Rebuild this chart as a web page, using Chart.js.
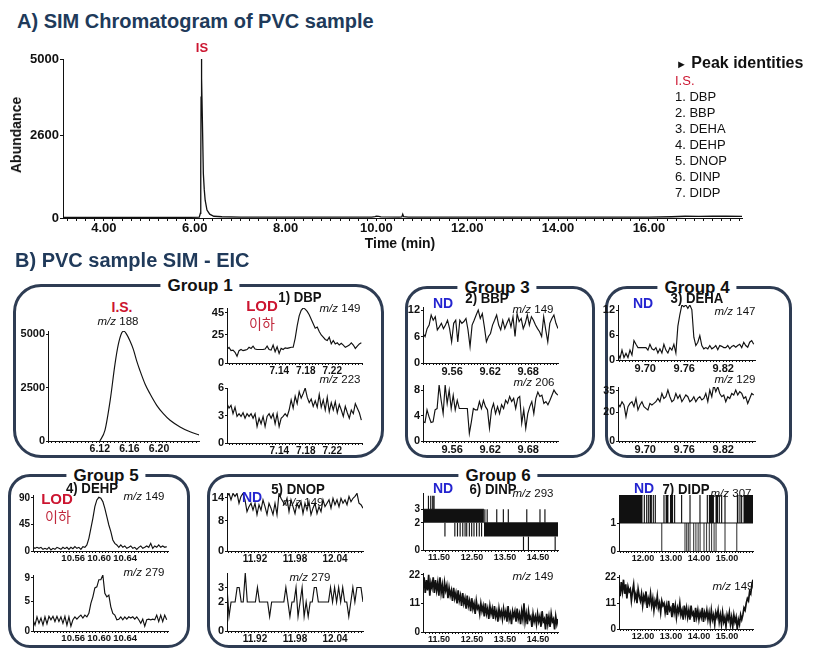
<!DOCTYPE html>
<html>
<head>
<meta charset="utf-8">
<script src="https://cdn.jsdelivr.net/npm/chart.js@4.4.1/dist/chart.umd.min.js"></script>
<style>
  html, body { margin: 0; padding: 0; background: #fff; }
  #stage { position: relative; width: 835px; height: 651px; overflow: hidden; background: #fff;
           font-family: 'Liberation Sans', Arial, sans-serif; color: #111; }
  canvas { position: absolute; z-index: 2; }
  .t   { position: absolute; transform: translate(-50%, -50%); line-height: 1; white-space: nowrap; z-index: 3; }
  .l   { position: absolute; transform: translateY(-50%); line-height: 1; white-space: nowrap; z-index: 3; }
  .box { position: absolute; box-sizing: border-box; border: 3px solid #2e3c53; border-radius: 22px; z-index: 1; }
  .grp { position: absolute; transform: translate(-50%, -50%); background: #fff; padding: 0 7px;
         font-weight: bold; font-size: 17px; line-height: 1; white-space: nowrap; z-index: 2; }
  .sec { font-weight: bold; font-size: 20px; color: #203a5a; }
  .sub { font-weight: bold; font-size: 15px; transform: translate(-50%, -50%) scaleX(0.88); }
  .mz  { font-size: 11.5px; }
  .red { color: #cc1530; font-weight: bold; }
  .kor { color: #c0283c; font-size: 14px; font-family: 'Noto Sans CJK KR', sans-serif; }
  .nd  { color: #2424d0; font-weight: bold; font-size: 14px; }
  .leg { font-size: 13px; }
</style>
</head>
<body>
<div id="stage">
  <!-- A) overview -->
  <div class="l sec" style="left:17px;top:21px">A) SIM Chromatogram of PVC sample</div>
  <div class="t red" style="left:202px;top:47px;font-size:13px">IS</div>
  <div class="t" style="left:16px;top:135px;font-weight:bold;font-size:14px;transform:translate(-50%,-50%) rotate(-90deg)">Abundance</div>
  <div class="t" style="left:400px;top:243px;font-weight:bold;font-size:14px">Time (min)</div>

  <div class="l" style="left:676px;top:63px;font-weight:bold;font-size:16px"><span style="font-size:11px">&#9658;</span> Peak identities</div>
  <div class="l leg" style="left:675px;top:80px;color:#cc1530">I.S.</div>
  <div class="l leg" style="left:675px;top:96px">1. DBP</div>
  <div class="l leg" style="left:675px;top:112px">2. BBP</div>
  <div class="l leg" style="left:675px;top:128px">3. DEHA</div>
  <div class="l leg" style="left:675px;top:144px">4. DEHP</div>
  <div class="l leg" style="left:675px;top:160px">5. DNOP</div>
  <div class="l leg" style="left:675px;top:176px">6. DINP</div>
  <div class="l leg" style="left:675px;top:192px">7. DIDP</div>

  <!-- B) extracted ion panels -->
  <div class="l sec" style="left:15px;top:260px">B) PVC sample SIM - EIC</div>

  <div class="box" style="left:13px;top:284px;width:371px;height:174px;border-radius:28px"></div>
  <div class="box" style="left:405px;top:286px;width:190px;height:172px"></div>
  <div class="box" style="left:605px;top:286px;width:187px;height:172px"></div>
  <div class="box" style="left:8px;top:474px;width:182px;height:174px"></div>
  <div class="box" style="left:207px;top:474px;width:581px;height:174px"></div>

  <div class="grp" style="left:200px;top:285px">Group 1</div>
  <div class="grp" style="left:497px;top:287px">Group 3</div>
  <div class="grp" style="left:697px;top:287px">Group 4</div>
  <div class="grp" style="left:106px;top:475px">Group 5</div>
  <div class="grp" style="left:498px;top:475px">Group 6</div>

  <!-- Group 1 -->
  <div class="t red" style="left:122px;top:307px;font-size:14px">I.S.</div>
  <div class="t mz" style="left:118px;top:322px"><i>m/z</i> 188</div>
  <div class="t sub" style="left:300px;top:296px">1) DBP</div>
  <div class="t red" style="left:262px;top:305px;font-size:15px">LOD</div>
  <div class="t kor" style="left:262px;top:323px">이하</div>
  <div class="t mz" style="left:340px;top:309px"><i>m/z</i> 149</div>
  <div class="t mz" style="left:340px;top:380px"><i>m/z</i> 223</div>

  <!-- Group 3 -->
  <div class="t nd" style="left:443px;top:303px">ND</div>
  <div class="t sub" style="left:487px;top:297px">2) BBP</div>
  <div class="t mz" style="left:533px;top:310px"><i>m/z</i> 149</div>
  <div class="t mz" style="left:534px;top:383px"><i>m/z</i> 206</div>

  <!-- Group 4 -->
  <div class="t nd" style="left:643px;top:303px">ND</div>
  <div class="t sub" style="left:697px;top:297px">3) DEHA</div>
  <div class="t mz" style="left:735px;top:312px"><i>m/z</i> 147</div>
  <div class="t mz" style="left:735px;top:380px"><i>m/z</i> 129</div>

  <!-- Group 5 -->
  <div class="t sub" style="left:92px;top:487px">4) DEHP</div>
  <div class="t red" style="left:57px;top:498px;font-size:15px">LOD</div>
  <div class="t kor" style="left:58px;top:516px">이하</div>
  <div class="t mz" style="left:144px;top:497px"><i>m/z</i> 149</div>
  <div class="t mz" style="left:144px;top:573px"><i>m/z</i> 279</div>

  <!-- Group 6 -->
  <div class="t sub" style="left:298px;top:488px">5) DNOP</div>
  <div class="t nd" style="left:252px;top:497px">ND</div>
  <div class="t mz" style="left:303px;top:503px"><i>m/z</i> 149</div>
  <div class="t mz" style="left:310px;top:578px"><i>m/z</i> 279</div>

  <div class="t nd" style="left:443px;top:488px">ND</div>
  <div class="t sub" style="left:493px;top:488px">6) DINP</div>
  <div class="t mz" style="left:533px;top:494px"><i>m/z</i> 293</div>
  <div class="t mz" style="left:533px;top:577px"><i>m/z</i> 149</div>

  <div class="t nd" style="left:644px;top:488px">ND</div>
  <div class="t sub" style="left:686px;top:488px">7) DIDP</div>
  <div class="t mz" style="left:731px;top:494px"><i>m/z</i> 307</div>
  <div class="t mz" style="left:733px;top:587px"><i>m/z</i> 149</div>
</div>

<script>
// ── Data ──────────────────────────────────────────────────────

// A) full SIM run
const mainTime   = [3.10, 4.00, 5.00, 5.90, 6.10, 6.125, 6.133, 6.14, 6.146, 6.15, 6.157, 6.17, 6.19, 6.21, 6.23,
                    6.27, 6.33, 6.42, 6.60, 7.00, 8.00, 9.00, 9.90, 9.97, 10.00, 10.05, 10.10, 10.50, 10.56, 10.58,
                    10.60, 10.70, 12.00, 14.00, 16.00, 16.50, 16.80, 17.10, 17.40, 17.70, 18.05];
const mainAbund  = [15, 15, 18, 20, 25, 150, 1500, 3800, 4900, 5000, 4400, 3000, 1400, 900, 560,
                    250, 120, 55, 40, 30, 25, 25, 30, 45, 60, 50, 35, 30, 35, 120,
                    40, 30, 25, 25, 28, 40, 55, 50, 60, 55, 50];
const mainXTicks = [4, 6, 8, 10, 12, 14, 16];
const mainYTicks = [0, 2600, 5000];

// Group 1 – internal standard, m/z 188
const isTime  = [6.120, 6.127, 6.134, 6.1405, 6.145, 6.1495, 6.1527, 6.1563, 6.1608, 6.1653,
                 6.1698, 6.1743, 6.1811, 6.1878, 6.1969, 6.2058, 6.2149, 6.2284, 6.2419, 6.2545];
const isAbund = [0, 510, 1900, 3600, 4520, 5060, 5140, 4990, 4680, 4290,
                 3750, 3290, 2670, 2210, 1670, 1280, 970, 660, 430, 280];
const isXTicks = [6.12, 6.16, 6.20];
const isYTicks = [0, 2500, 5000];

// Group 1 – DBP (scan window 7.061 – 7.265 min)
const dbpRange  = [7.061, 7.264];
const dbp149 = [12.1, 13.8, 11, 11.5, 9.5, 6, 11, 12, 11, 11.5, 12, 14, 13, 15, 12.5, 12, 12, 12, 12, 12.5,
                15, 12, 11.5, 16, 10, 14.5, 8.5, 13, 12, 13.5, 13, 13.5, 14, 14, 22, 33, 42, 47, 49, 48,
                46, 43, 39, 35, 31, 32, 28, 25, 23, 21, 20, 23, 17, 20, 17, 18, 16, 17.5, 16, 14,
                15, 16, 18, 16, 13, 15, 17, 18];
const dbp223 = [4.3, 3.8, 4.1, 3.2, 3.9, 2.9, 3.2, 2.9, 3.3, 2.7, 3.2, 2.9, 3.2, 2.7, 3.2, 1.8, 2.7, 2.1, 2.9, 1.8,
                2.9, 3.2, 2.7, 3.2, 2.1, 3.2, 1.8, 2.7, 2.9, 3.2, 2.9, 3.6, 4.7, 3.8, 5.1, 4.3, 5.6, 4.9, 5.4, 6.0,
                5.0, 4.4, 4.8, 4.0, 4.6, 3.9, 5.3, 3.9, 4.7, 3.6, 5.0, 3.4, 4.4, 3.6, 4.5, 3.3, 4.2, 3.6, 2.9, 4.0,
                3.3, 2.7, 3.6, 3.2, 4.3, 3.8, 3.3, 2.5];
const dbpXTicks    = [7.14, 7.18, 7.22];
const dbp149YTicks = [0, 25, 45];
const dbp223YTicks = [0, 3, 6];

// Group 3 – BBP
const bbpRange = [9.514, 9.727];
const bbp149 = [6.7, 6.0, 7.8, 8.6, 10.9, 9.7, 10.5, 7.5, 8.2, 9.0, 7.8, 8.6, 9.7, 7.8, 4.8, 9.0, 9.7, 4.8, 9.7, 9.0,
                9.4, 10.1, 7.5, 3.7, 8.6, 9.7, 10.9, 12.0, 10.1, 11.2, 8.2, 4.8, 6.0, 6.7, 8.6, 9.7, 10.9, 8.6, 7.5, 9.7,
                7.8, 9.0, 10.1, 8.2, 10.5, 6.0, 11.2, 9.4, 10.1, 7.8, 9.0, 10.9, 8.6, 10.5, 9.7, 8.6, 7.8, 7.1, 6.0, 10.5,
                7.5, 4.8, 9.0, 10.1, 10.9, 9.0, 7.8];
const bbp206 = [3.0, 2.9, 4.9, 3.8, 2.9, 3.0, 4.9, 5.1, 8.8, 6.4, 4.3, 8.8, 5.9, 8.0, 5.1, 7.2, 4.9, 6.4, 5.1, 5.1,
                5.1, 5.1, 5.1, 1.2, 3.0, 5.1, 4.9, 4.9, 6.2, 5.1, 6.4, 5.4, 4.9, 2.0, 4.9, 5.9, 4.3, 5.4, 4.3, 5.7,
                5.1, 6.4, 5.9, 7.0, 6.2, 6.7, 5.1, 6.7, 7.0, 2.8, 4.9, 2.0, 4.3, 5.4, 6.2, 4.3, 6.7, 7.7, 7.0, 7.2,
                5.9, 6.2, 5.7, 6.4, 7.2, 8.0, 7.5, 7.2];
const bbpXTicks    = [9.56, 9.62, 9.68];
const bbp149YTicks = [0, 6, 12];
const bbp206YTicks = [0, 4, 8];

// Group 4 – DEHA
const dehaRange = [9.658, 9.867];
const deha147 = [1.6, 0.4, 2.4, 0.6, 1.6, 0.6, 2.4, 1.2, 4.7, 3.8, 3.0, 3.0, 3.0, 3.0, 3.0, 2.4, 3.8, 2.7, 2.4, 3.0,
                 1.7, 2.7, 1.7, 3.8, 2.4, 1.7, 3.0, 2.4, 3.8, 1.7, 8.2, 11.0, 13.3, 12.9, 13.3, 12.5, 13.3, 12.2, 5.5, 3.5,
                 4.3, 5.9, 3.5, 2.7, 3.0, 2.7, 3.5, 2.7, 3.0, 3.5, 2.5, 3.5, 3.3, 3.0, 3.0, 3.5, 2.7, 3.3, 3.5, 3.1,
                 3.5, 3.8, 3.0, 4.3, 3.5, 3.1, 4.3, 4.7, 3.8];
const deha129 = [26.3, 24.0, 27.5, 25.2, 17.0, 24.0, 26.3, 27.5, 24.0, 29.8, 21.7, 25.2, 27.5, 24.0, 22.8, 21.7, 26.3, 25.2, 26.3, 27.5,
                 29.8, 27.5, 33.3, 29.8, 31.0, 35.7, 31.0, 27.5, 28.7, 33.3, 29.8, 32.2, 27.5, 29.8, 32.2, 31.0, 27.5, 28.7, 31.0, 27.5,
                 29.8, 31.0, 28.7, 29.8, 33.3, 27.5, 35.7, 31.0, 39.2, 34.5, 38.0, 33.3, 31.0, 32.2, 27.5, 31.0, 29.8, 33.3, 32.2, 35.7,
                 32.2, 34.5, 33.3, 29.8, 31.0, 26.3, 29.8, 33.3, 32.2];
const dehaXTicks    = [9.70, 9.76, 9.82];
const deha147YTicks = [0, 6, 12];
const deha129YTicks = [0, 20, 35];

// Group 5 – DEHP
const dehpRange = [10.498, 10.704];
const dehp149 = [6.2, 4.5, 6.2, 4.5, 6.2, 2.8, 4.5, 2.8, 6.2, 1.7, 4.5, 2.8, 6.2, 4.5, 2.8, 6.2, 4.0, 6.2, 2.8, 6.2,
                 4.0, 7.4, 4.5, 6.2, 2.8, 7.4, 6.2, 10.2, 21.5, 38.5, 55.5, 75.3, 86.6, 91.1, 89.4, 83.8, 72.4, 58.3, 44.1, 32.8,
                 18.7, 13.0, 10.2, 6.2, 10.2, 6.2, 8.5, 4.5, 6.2, 8.5, 4.5, 6.2, 2.8, 6.2, 8.5, 4.5, 6.2, 8.5, 6.2, 13.0,
                 4.5, 8.5, 6.2, 10.2, 6.2, 8.5, 6.2, 7.4];
const dehp279 = [1.9, 1.0, 2.4, 1.3, 2.2, 1.0, 2.4, 1.2, 2.5, 1.9, 2.5, 1.6, 2.5, 1.6, 2.4, 1.3, 2.5, 1.0, 2.4, 0.8,
                 1.9, 2.4, 2.0, 2.4, 2.7, 2.2, 2.7, 2.4, 3.0, 4.7, 5.8, 7.3, 7.5, 8.7, 8.7, 9.5, 6.4, 5.8, 6.1, 4.1,
                 3.0, 2.7, 1.9, 2.0, 2.4, 1.9, 2.4, 2.0, 2.4, 2.2, 2.4, 2.0, 2.4, 1.9, 1.3, 2.0, 0.8, 1.9, 2.0, 1.9,
                 2.0, 1.9, 2.7, 1.6, 2.7, 1.6, 2.7, 1.9];
const dehpXTicks    = [10.56, 10.60, 10.64];
const dehp149YTicks = [0, 45, 90];
const dehp279YTicks = [0, 5, 9];

// Group 6 – DNOP
const dnopRange = [11.878, 12.082];
const dnop149 = [14.4, 15.2, 13.5, 15.2, 14.4, 15.2, 12.6, 14.4, 15.2, 13.5, 10.4, 11.7, 12.6, 10.8, 12.6, 9.6, 12.2, 10.8, 13.5, 11.7,
                 9.6, 12.6, 11.3, 9.6, 12.6, 9.6, 15.2, 13.9, 13.0, 12.2, 13.9, 10.4, 13.5, 11.7, 9.9, 12.6, 11.3, 13.0, 9.9, 12.6,
                 10.8, 13.0, 9.6, 11.3, 12.6, 9.9, 11.7, 10.4, 13.5, 11.7, 12.6, 13.5, 11.3, 13.9, 12.2, 13.5, 11.7, 13.9, 12.6, 13.5,
                 12.2, 14.4, 13.0, 13.9, 14.4, 15.2, 12.6, 12.2, 11.3];
const dnop279 = [3, 1, 2, 2, 2, 3, 3, 2, 2, 4, 2, 2, 2, 2, 2, 3, 2, 2, 2, 2,
                 2, 1, 2, 2, 2, 2, 2, 2, 2, 3, 2, 1, 2, 2, 3, 1, 2, 3, 1, 2,
                 1, 2, 2, 3, 3, 2, 2, 2, 2, 2, 2, 3, 2, 3, 2, 3, 2, 3, 2, 2,
                 1, 2, 3, 2, 3, 3, 3, 2];
const dnopXTicks    = [11.92, 11.98, 12.04];
const dnop149YTicks = [0, 8, 14];
const dnop279YTicks = [0, 2, 3];

// Group 6 – DINP (m/z 293 is a counting signal: dense bands + single spikes)
const dinpRange     = [11.015, 15.106];
const dinpBandStart = [11.015, 12.86];
const dinpBandEnd   = [12.86, 15.106];
const dinpBandLo    = [2, 1];
const dinpBandHi    = [3, 2];
const dinpSpikeT    = [11.18, 11.25, 11.31, 11.35,
                       11.68, 11.98, 12.06, 12.14, 12.22, 12.29, 12.34, 12.42, 12.49, 12.56, 12.64, 12.72, 12.79,
                       12.89, 12.96, 13.25, 13.45, 13.60, 14.16, 14.56, 14.71,
                       14.06, 14.21, 15.02];
const dinpSpikeLo   = [3, 3, 3, 3, 1, 1, 1, 1, 1, 1, 1, 1, 1, 1, 1, 1, 1, 2, 2, 2, 2, 2, 2, 2, 2, 0, 0, 0];
const dinpSpikeHi   = [4, 4, 4, 4, 2, 2, 2, 2, 2, 2, 2, 2, 2, 2, 2, 2, 2, 3, 3, 3, 3, 3, 3, 3, 3, 1, 1, 1];
const dinp149 = [17, 21, 15, 20, 16, 22, 14, 19, 17, 21, 15, 20, 16, 19, 14, 21, 15, 18, 13, 19,
                 16, 18, 13, 17, 14, 16, 12, 17, 13, 15, 11, 16, 12, 14, 10, 15, 11, 13, 9, 14,
                 10, 12, 8, 13, 9, 11, 7, 12, 9, 10, 7, 11, 8, 10, 6, 11, 7, 9, 5, 10,
                 7, 9, 5, 10, 6, 8, 4, 9, 6, 8, 5, 9, 6, 8, 4, 10, 5, 7, 3, 8,
                 6, 8, 4, 9, 5, 7, 3, 8, 5, 11, 4, 7, 3, 8, 5, 6, 2, 7, 4, 6,
                 3, 7, 4, 6, 2, 8, 4, 5, 1, 7, 3, 6, 2, 7, 4, 5, 1, 6, 3, 5];
const dinpXTicks    = [11.5, 12.5, 13.5, 14.5];
const dinp293YTicks = [0, 2, 3];
const dinp149YTicks = [0, 11, 22];

// Group 6 – DIDP
const didpRange     = [11.143, 15.93];
const didpFloor     = 1;
const didpBandStart = [11.143, 12.11, 12.226, 12.80, 12.964, 14.345, 14.583, 15.345, 15.583];
const didpBandEnd   = [11.99, 12.155, 12.32, 12.917, 13.083, 14.536, 14.68, 15.417, 15.93];
const didpUpT       = [12.048, 12.19, 12.369, 12.44, 12.75, 13.13, 13.38, 13.68, 14.036, 14.298, 14.726, 14.81, 14.93, 15.464, 15.524];
const didpDownT     = [12.67, 13.50, 13.56, 13.62, 13.68, 13.81, 13.89, 13.97, 14.04, 14.18, 14.27, 14.37, 14.45, 14.54, 14.61, 14.93, 15.35];
const didp149 = [18, 14, 20, 16, 21, 15, 19, 13, 18, 16, 17, 12, 16, 19, 13, 15, 11, 17, 14, 12,
                 15, 10, 14, 12, 16, 9, 13, 11, 15, 10, 13, 8, 12, 10, 14, 9, 11, 7, 12, 10,
                 11, 7, 10, 6, 12, 8, 9, 5, 11, 7, 10, 5, 9, 7, 11, 6, 8, 4, 10, 6,
                 9, 5, 8, 4, 10, 6, 7, 3, 9, 5, 8, 4, 7, 5, 9, 3, 7, 5, 8, 4,
                 7, 3, 8, 4, 6, 2, 7, 5, 8, 3, 6, 2, 7, 3, 5, 1, 6, 4, 7, 2,
                 5, 1, 6, 3, 5, 0, 4, 2, 6, 4, 6, 9, 8, 11, 13, 12, 16, 15, 19, 21];
const didpXTicks    = [12, 13, 14, 15];
const didp307YTicks = [0, 1];
const didp149YTicks = [0, 11, 22];

// ── Helpers ───────────────────────────────────────────────────

const INK   = '#111';
const stage = document.getElementById('stage');
Chart.defaults.font.family = "'Liberation Sans', Arial, sans-serif";

const pairs   = (ts, vs) => ts.map((t, i) => ({ x: t, y: vs[i] }));
const sampled = (range, vs) => vs.map((v, i) => ({ x: range[0] + (range[1] - range[0]) * i / (vs.length - 1), y: v }));

function spikes(ts, los, his) {
  return ts.flatMap((t, i) => [{ x: t, y: los[i] }, { x: t, y: his[i] }, { x: t, y: null }]);
}

const trace = (data, extra = {}) => ({ data, borderColor: INK, borderWidth: 1.15, pointRadius: 0, tension: 0, ...extra });

function bands(starts, ends, lo, hi) {
  return starts.map((s, i) => ({
    data: [{ x: s, y: hi[i] }, { x: ends[i], y: hi[i] }],
    borderColor: INK, borderWidth: 1, pointRadius: 0,
    backgroundColor: INK, fill: { value: lo[i] },
  }));
}

function xTickList(min, max, minor, majors) {
  const out = [];
  for (let k = Math.ceil(min / minor - 1e-9); k <= Math.floor(max / minor + 1e-9); k++) {
    out.push({ value: +(k * minor).toFixed(5) });
  }
  majors.forEach(m => { if (!out.some(t => Math.abs(t.value - m) < 1e-6)) out.push({ value: m }); });
  return out.sort((a, b) => a.value - b.value);
}

// area = plot rectangle [left, top, right, bottom] in page pixels
function plot(area, o) {
  const [x0, y0, x1, y1] = area;
  const PAD = 10;
  const w = x1 - x0 + o.yw + PAD;
  const h = y1 - y0 + PAD + o.xh;
  const cv = document.createElement('canvas');
  cv.width = w; cv.height = h;
  cv.style.left = (x0 - o.yw) + 'px';
  cv.style.top = (y0 - PAD) + 'px';
  cv.style.width = w + 'px';
  cv.style.height = h + 'px';
  stage.appendChild(cv);

  const isMajor = v => o.xticks.some(m => Math.abs(m - v) < 1e-6);
  return new Chart(cv, {
    type: 'line',
    data: { datasets: o.datasets },
    options: {
      responsive: false,
      animation: false,
      devicePixelRatio: 1,
      layout: { padding: { top: PAD, right: PAD, left: 0, bottom: 0 } },
      plugins: { legend: { display: false }, tooltip: { enabled: false } },
      scales: {
        x: {
          type: 'linear', min: o.xmin, max: o.xmax, offset: false,
          afterFit: s => { s.height = o.xh; },
          afterBuildTicks: ax => { ax.ticks = xTickList(o.xmin, o.xmax, o.minor, o.xticks); },
          grid: { drawOnChartArea: false, drawTicks: true, tickLength: o.tl || 2, color: INK },
          border: { display: true, color: INK, width: 1 },
          ticks: {
            autoSkip: false, maxRotation: 0, padding: 0, color: INK,
            font: { size: o.xf, weight: 'bold' },
            callback: v => isMajor(v) ? v.toFixed(2) : '',
          },
        },
        y: {
          type: 'linear', min: 0, max: o.ymax,
          afterFit: s => { s.width = o.yw; },
          afterBuildTicks: ax => { ax.ticks = o.yticks.map(v => ({ value: v })); },
          grid: { drawOnChartArea: false, drawTicks: true, tickLength: o.tl || 2, color: INK },
          border: { display: true, color: INK, width: 1 },
          ticks: { padding: 1, color: INK, font: { size: o.yf, weight: 'bold' }, callback: v => String(v) },
        },
      },
    },
  });
}

// ── Charts ────────────────────────────────────────────────────

// A) overview chromatogram
plot([63, 59, 742, 218], {
  xmin: 3.1, xmax: 18.05, minor: 0.2, xticks: mainXTicks,
  ymax: 5000, yticks: mainYTicks, yw: 63, xh: 28, xf: 13, yf: 13, tl: 3,
  datasets: [trace(pairs(mainTime, mainAbund), { borderWidth: 1.3 })],
});

// Group 1
plot([48, 331, 199, 441], {
  xmin: 6.05, xmax: 6.254, minor: 0.005, xticks: isXTicks,
  ymax: 5150, yticks: isYTicks, yw: 40, xh: 16, xf: 10.5, yf: 11,
  datasets: [trace(pairs(isTime, isAbund), { tension: 0.35, cubicInterpolationMode: 'monotone' })],
});
plot([227, 308, 362, 363], {
  xmin: 7.061, xmax: 7.265, minor: 0.005, xticks: dbpXTicks,
  ymax: 49, yticks: dbp149YTicks, yw: 30, xh: 14, xf: 10, yf: 11,
  datasets: [trace(sampled(dbpRange, dbp149))],
});
plot([227, 388, 362, 443], {
  xmin: 7.061, xmax: 7.265, minor: 0.005, xticks: dbpXTicks,
  ymax: 6, yticks: dbp223YTicks, yw: 30, xh: 14, xf: 10, yf: 11,
  datasets: [trace(sampled(dbpRange, dbp223))],
});

// Group 3
plot([423, 307, 558, 363], {
  xmin: 9.514, xmax: 9.727, minor: 0.005, xticks: bbpXTicks,
  ymax: 12.7, yticks: bbp149YTicks, yw: 30, xh: 14, xf: 11, yf: 11,
  datasets: [trace(sampled(bbpRange, bbp149))],
});
plot([423, 385, 558, 441], {
  xmin: 9.514, xmax: 9.727, minor: 0.005, xticks: bbpXTicks,
  ymax: 8.8, yticks: bbp206YTicks, yw: 30, xh: 14, xf: 11, yf: 11,
  datasets: [trace(sampled(bbpRange, bbp206))],
});

// Group 4
plot([618, 305, 755, 360], {
  xmin: 9.658, xmax: 9.869, minor: 0.005, xticks: dehaXTicks,
  ymax: 13.3, yticks: deha147YTicks, yw: 30, xh: 14, xf: 11, yf: 11,
  datasets: [trace(sampled(dehaRange, deha147))],
});
plot([618, 387, 755, 441], {
  xmin: 9.658, xmax: 9.869, minor: 0.005, xticks: dehaXTicks,
  ymax: 37.8, yticks: deha129YTicks, yw: 30, xh: 14, xf: 11, yf: 10.5,
  datasets: [trace(sampled(dehaRange, deha129))],
});

// Group 5
plot([33, 495, 168, 551], {
  xmin: 10.498, xmax: 10.706, minor: 0.005, xticks: dehpXTicks,
  ymax: 95, yticks: dehp149YTicks, yw: 26, xh: 14, xf: 9.5, yf: 10,
  datasets: [trace(sampled(dehpRange, dehp149))],
});
plot([33, 575, 168, 631], {
  xmin: 10.498, xmax: 10.706, minor: 0.005, xticks: dehpXTicks,
  ymax: 9.5, yticks: dehp279YTicks, yw: 26, xh: 14, xf: 9.5, yf: 10,
  datasets: [trace(sampled(dehpRange, dehp279))],
});

// Group 6 – DNOP
plot([227, 493, 363, 551], {
  xmin: 11.878, xmax: 12.082, minor: 0.005, xticks: dnopXTicks,
  ymax: 15.3, yticks: dnop149YTicks, yw: 26, xh: 14, xf: 10, yf: 11,
  datasets: [trace(sampled(dnopRange, dnop149))],
});
plot([227, 573, 363, 631], {
  xmin: 11.878, xmax: 12.082, minor: 0.005, xticks: dnopXTicks,
  ymax: 4, yticks: dnop279YTicks, yw: 26, xh: 14, xf: 10, yf: 11,
  datasets: [trace(sampled(dnopRange, dnop279))],
});

// Group 6 – DINP
plot([423, 493, 558, 550], {
  xmin: 11.015, xmax: 15.106, minor: 0.1, xticks: dinpXTicks,
  ymax: 4.2, yticks: dinp293YTicks, yw: 26, xh: 14, xf: 9, yf: 10,
  datasets: [
    ...bands(dinpBandStart, dinpBandEnd, dinpBandLo, dinpBandHi),
    trace(spikes(dinpSpikeT, dinpSpikeLo, dinpSpikeHi)),
  ],
});
plot([423, 573, 558, 632], {
  xmin: 11.015, xmax: 15.106, minor: 0.1, xticks: dinpXTicks,
  ymax: 22.7, yticks: dinp149YTicks, yw: 26, xh: 14, xf: 9, yf: 10,
  datasets: [trace(sampled(dinpRange, dinp149), { borderWidth: 1.7 })],
});

// Group 6 – DIDP
plot([619, 495, 753, 551], {
  xmin: 11.143, xmax: 15.93, minor: 0.1, xticks: didpXTicks,
  ymax: 2, yticks: didp307YTicks, yw: 26, xh: 14, xf: 9, yf: 10,
  datasets: [
    trace([{ x: didpRange[0], y: didpFloor }, { x: didpRange[1], y: didpFloor }]),
    ...bands(didpBandStart, didpBandEnd, didpBandStart.map(() => didpFloor), didpBandStart.map(() => didpFloor + 1)),
    trace(spikes(didpUpT, didpUpT.map(() => didpFloor), didpUpT.map(() => didpFloor + 1))),
    trace(spikes(didpDownT, didpDownT.map(() => didpFloor - 1), didpDownT.map(() => didpFloor)), { borderColor: '#444' }),
  ],
});
plot([619, 575, 753, 629], {
  xmin: 11.143, xmax: 15.93, minor: 0.1, xticks: didpXTicks,
  ymax: 23, yticks: didp149YTicks, yw: 26, xh: 14, xf: 9, yf: 10,
  datasets: [trace(sampled(didpRange, didp149), { borderWidth: 1.7 })],
});
</script>
</body>
</html>
